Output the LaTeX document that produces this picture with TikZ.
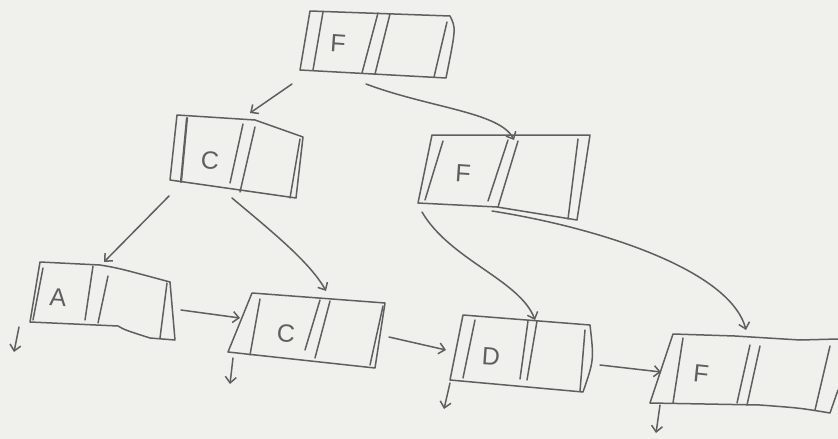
\documentclass[tikz,border=0pt]{standalone}
\usepackage{fontspec}
\setmainfont{Liberation Sans}
\usetikzlibrary{arrows.meta}
\definecolor{paper}{RGB}{240,240,237}
\definecolor{pencil}{RGB}{95,95,95}
\tikzset{
  outline/.style={draw=pencil, line width=1.5pt, line join=round, line cap=round},
  divider/.style={draw=pencil, line width=1.5pt, line cap=round},
  link/.style={draw=pencil, line width=1.5pt, line cap=round,
    -{Straight Barb[length=6pt,width=11pt,line width=1.5pt]}},
  keytext/.style={text=pencil, font=\fontsize{25}{25}\selectfont, inner sep=0pt},
}
\begin{document}
\begin{tikzpicture}[x=1pt,y=-1pt]
\fill[paper] (0,0) rectangle (838,439);
\useasboundingbox (0,0) rectangle (838,439);

% ---- root node F
\draw[outline] (310,11) -- (450,16) .. controls (456,28) .. (446,78) -- (300,70) -- cycle;
\draw[divider] (323,12) -- (313,70);
\draw[divider] (378,13) -- (362,73);
\draw[divider] (390,14) -- (375,74);
\draw[divider] (447,22) -- (434,77);
\node[keytext, rotate=-4] (kroot) at (338,43) {F};
\coordinate (root-a) at (292,84);
\coordinate (root-b) at (366,84);

% ---- inner node C
\draw[outline] (177,115) -- (255,120) -- (303,137) -- (296,198) -- (170,180) -- cycle;
\draw[divider, line width=2.2pt] (187,118) -- (181,182);
\draw[divider] (243,124) -- (230,183);
\draw[divider] (255,127) -- (240,192);
\draw[divider] (300,139) -- (290,198);
\node[keytext, rotate=-4] (kcin) at (210,161) {C};
\coordinate (cin-a) at (169,196);
\coordinate (cin-b) at (232,198);
\coordinate (cin-top) at (250,113);

% ---- inner node F
\draw[outline] (432,135) -- (590,135) -- (577,220) -- (497,207) -- (418,203) -- cycle;
\draw[divider] (443,141) -- (425,200);
\draw[divider] (508,140) -- (488,201);
\draw[divider] (518,141) -- (498,207);
\draw[divider] (578,139) -- (568,219);
\node[keytext, rotate=-4] (kfin) at (463,173) {F};
\coordinate (fin-top) at (514,140);
\coordinate (fin-a) at (422,212);
\coordinate (fin-b) at (492,211);

% ---- leaf A
\draw[outline] (40,262) -- (100,265) .. controls (118,268) .. (170,282) -- (175,340) -- (150,338) .. controls (125,330) .. (118,326) -- (30,322) -- cycle;
\draw[divider] (43,268) -- (33,320);
\draw[divider] (93,266) -- (85,320);
\draw[divider] (108,276) -- (98,323);
\draw[divider] (167,283) -- (160,338);
\node[keytext, rotate=-4] (kla) at (58,297) {A};
\coordinate (la-top) at (104,262);
\coordinate (la-r) at (181,310);
\coordinate (la-d0) at (19,327);
\coordinate (la-d1) at (14,352);

% ---- leaf C
\draw[outline] (252,293) -- (385,303) -- (375,368) -- (228,352) -- cycle;
\draw[divider] (260,299) -- (250,355);
\draw[divider] (320,300) -- (305,350);
\draw[divider] (330,301) -- (315,358);
\draw[divider] (383,306) -- (370,365);
\node[keytext, rotate=-4] (klc) at (286,334) {C};
\coordinate (lc-top) at (326,291);
\coordinate (lc-l) at (240,318);
\coordinate (lc-r) at (389,337);
\coordinate (lc-d0) at (233,358);
\coordinate (lc-d1) at (230,384);

% ---- leaf D
\draw[outline] (463,315) -- (590,325) .. controls (594,360) .. (583,392) -- (450,380) -- cycle;
\draw[divider] (475,320) -- (463,378);
\draw[divider] (528,321) -- (520,379);
\draw[divider] (537,321) -- (527,380);
\draw[divider] (585,330) -- (580,391);
\node[keytext, rotate=-4] (kld) at (491,357) {D};
\coordinate (ld-top) at (535,320);
\coordinate (ld-l) at (446,350);
\coordinate (ld-r) at (600,365);
\coordinate (ld-d0) at (450,383);
\coordinate (ld-d1) at (444,409);

% ---- leaf F
\draw[outline] (650,403) -- (673,334) -- (735,336) -- (800,340) -- (838,339);
\draw[outline] (650,403) -- (760,405) .. controls (800,408) .. (830,413) -- (838,390);
\draw[divider] (683,338) -- (673,403);
\draw[divider] (750,345) -- (737,403);
\draw[divider] (760,346) -- (747,405);
\draw[divider] (830,346) -- (815,410);
\node[keytext, rotate=-6] (klf) at (701,374) {F};
\coordinate (lf-top) at (746,330);
\coordinate (lf-l) at (661,372);
\coordinate (lf-d0) at (660,405);
\coordinate (lf-d1) at (656,433);

% ---- child pointers
\draw[link] (root-a) -- (cin-top);
\draw[link] (root-b) .. controls (430,108) and (500,112) .. (fin-top);
\draw[link] (cin-a) -- (la-top);
\draw[link] (cin-b) .. controls (270,230) and (310,262) .. (lc-top);
\draw[link] (fin-a) .. controls (450,260) and (520,280) .. (ld-top);
\draw[link] (fin-b) .. controls (600,228) and (730,270) .. (lf-top);

% ---- leaf chain
\draw[link] (la-r) -- (lc-l);
\draw[link] (lc-r) -- (ld-l);
\draw[link] (ld-r) -- (lf-l);

% ---- record pointers below leaves
\draw[link] (la-d0) -- (la-d1);
\draw[link] (lc-d0) -- (lc-d1);
\draw[link] (ld-d0) -- (ld-d1);
\draw[link] (lf-d0) -- (lf-d1);
\end{tikzpicture}
\end{document}
